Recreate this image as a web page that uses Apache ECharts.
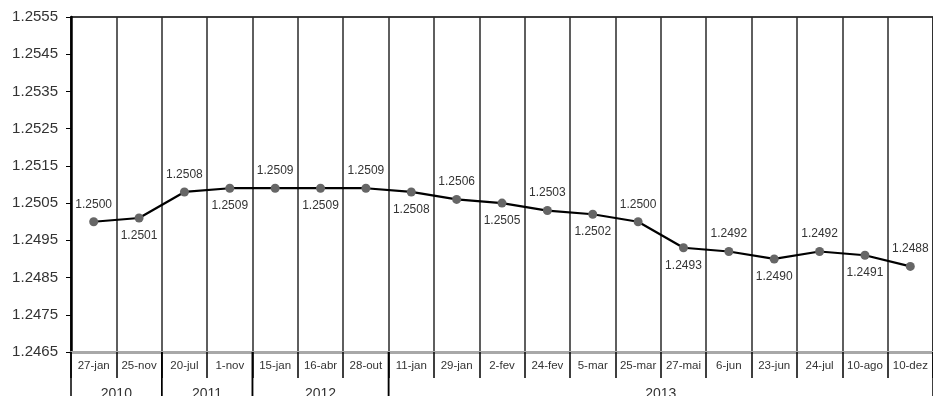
<!DOCTYPE html>
<html>
<head>
<meta charset="utf-8">
<script src="https://cdn.jsdelivr.net/npm/echarts@6/dist/echarts.min.js"></script>
<style>
  html, body { margin: 0; padding: 0; background: #fff; }
  #chart { width: 933px; height: 396px; }
</style>
</head>
<body>
<div id="chart"></div>
<script>
// Exchange rate observations, grouped by year along the bottom axis
const categories = ['27-jan', '25-nov', '20-jul', '1-nov', '15-jan', '16-abr', '28-out',
  '11-jan', '29-jan', '2-fev', '24-fev', '5-mar', '25-mar', '27-mai', '6-jun', '23-jun',
  '24-jul', '10-ago', '10-dez'];
const values = [1.2500, 1.2501, 1.2508, 1.2509, 1.2509, 1.2509, 1.2509, 1.2508, 1.2506,
  1.2505, 1.2503, 1.2502, 1.2500, 1.2493, 1.2492, 1.2490, 1.2492, 1.2491, 1.2488];
const years = ['2010', '2011', '2012', '2013'];
const yearStart = [0, 2, 4, 7];   // first category index of each year
const yearEnd = [1, 3, 6, 18];    // last category index of each year

const yMin = 1.2465, yMax = 1.2555, yStep = 0.001;

const FONT = '"Liberation Sans", Arial, sans-serif';

const chart = echarts.init(document.getElementById('chart'), null, { renderer: 'canvas' });

const pointData = values.map((v, i) => ({
  value: v,
  label: { position: i % 2 === 0 ? 'top' : 'bottom' }
}));

const yearData = years.map((y, i) => [yearStart[i], yearEnd[i], y]);

chart.setOption({
  animation: false,
  grid: {
    left: 71, top: 17, width: 866, height: 335,
    show: true, borderColor: '#000', borderWidth: 1.5, backgroundColor: 'transparent'
  },
  xAxis: {
    type: 'category',
    data: categories,
    boundaryGap: true,
    axisLine: { show: true, lineStyle: { color: '#a8a8a8', width: 3 } },
    axisTick: { show: true, inside: false, length: 26, lineStyle: { color: '#000', width: 1.5 } },
    axisLabel: { color: '#333', fontSize: 11.5, fontFamily: FONT, margin: 8, interval: 0 },
    splitLine: { show: true, interval: 0, lineStyle: { color: '#2a2a2a', width: 1.5 } }
  },
  yAxis: {
    type: 'value',
    min: yMin, max: yMax, interval: yStep,
    axisLine: { show: true, lineStyle: { color: '#000', width: 2.5 } },
    axisTick: { show: true, inside: false, length: 5, lineStyle: { color: '#000', width: 1 } },
    axisLabel: {
      color: '#333', fontSize: 15, fontFamily: FONT, margin: 13,
      formatter: v => v.toFixed(4)
    },
    splitLine: { show: false }
  },
  series: [
    {
      type: 'line',
      data: pointData,
      symbol: 'circle',
      symbolSize: 9,
      itemStyle: { color: '#666' },
      lineStyle: { color: '#000', width: 2.2 },
      label: {
        show: true,
        color: '#333',
        fontSize: 12,
        fontFamily: FONT,
        distance: 7,
        formatter: p => p.value.toFixed(4)
      },
      z: 5
    },
    {
      // year bands under the date labels
      type: 'custom',
      clip: false,
      silent: true,
      data: yearData,
      encode: { x: 0 },
      renderItem: function (params, api) {
        const bw = api.size([1, 0])[0];
        const left = api.coord([api.value(0), yMin])[0] - bw / 2;
        const right = api.coord([api.value(1), yMin])[0] + bw / 2;
        const base = api.coord([api.value(0), yMin])[1];
        return {
          type: 'group',
          children: [
            {
              type: 'line',
              shape: { x1: left, y1: base, x2: left, y2: base + 60 },
              style: { stroke: '#000', lineWidth: 1.5 }
            },
            {
              type: 'line',
              shape: { x1: right, y1: base, x2: right, y2: base + 60 },
              style: { stroke: '#000', lineWidth: 1.5 }
            },
            {
              type: 'text',
              style: {
                x: (left + right) / 2, y: base + 35,
                text: api.value(2),
                fill: '#333', fontSize: 14, fontFamily: FONT,
                align: 'center', verticalAlign: 'top'
              }
            }
          ]
        };
      }
    }
  ]
});
</script>
</body>
</html>
